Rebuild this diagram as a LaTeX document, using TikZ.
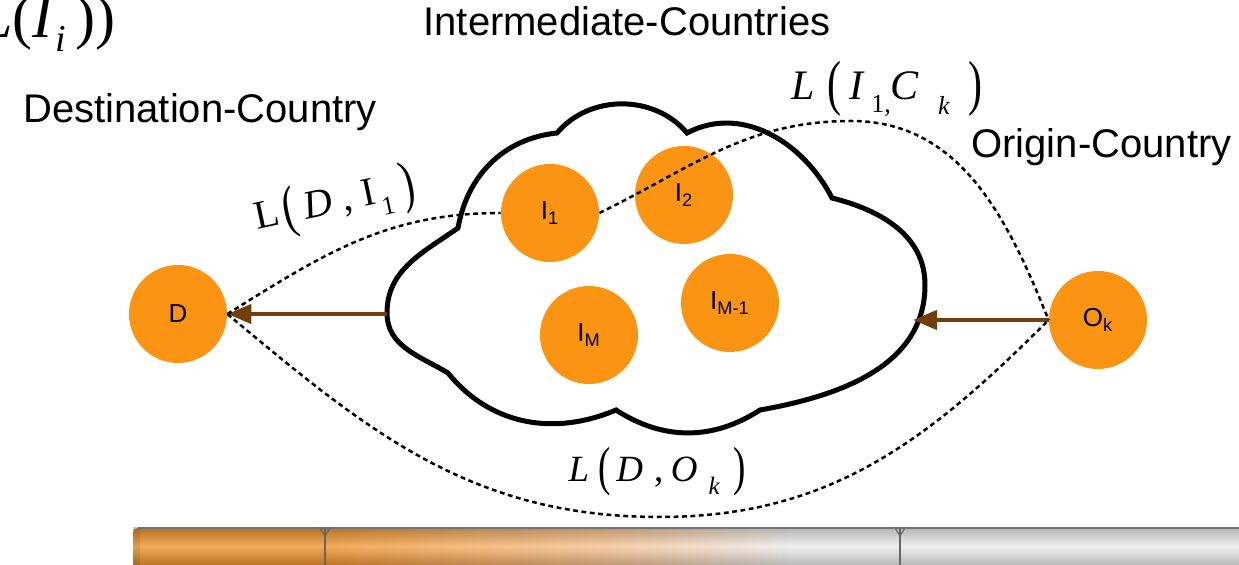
\documentclass[tikz,border=0pt]{standalone}
\usepackage{fontspec}
\usepackage{graphicx}
\setmainfont{Liberation Sans}
\newfontfamily\tnr{Liberation Serif}
\usetikzlibrary{arrows.meta}
\definecolor{orng}{RGB}{250,148,18}
\definecolor{brwn}{RGB}{112,64,8}
\definecolor{cigor}{RGB}{240,148,45}
\definecolor{cigpale}{RGB}{246,196,150}
\definecolor{ciggray}{RGB}{236,236,236}
\newcommand{\tallpar}[1]{\raisebox{-0.1em}{\scalebox{1}[1.45]{#1}}}
\begin{document}
\begin{tikzpicture}[x=0.5pt,y=0.5pt,
  country/.style={circle,fill=orng,minimum size=49pt,inner sep=0pt,font=\fontsize{13pt}{13pt}\selectfont},
  region/.style={inner sep=0pt,font=\fontsize{20pt}{22pt}\selectfont},
  linkline/.style={dash pattern=on 2.4pt off 1.8pt,line width=1.25pt},
  flow/.style={draw=brwn,line width=2.2pt,-{Triangle[length=12pt,width=9.5pt]}},
  cloudline/.style={line width=2.5pt,line join=miter},
  lbl/.style={inner sep=0pt,font=\tnr\fontsize{20pt}{20pt}\selectfont}
]
\useasboundingbox (0,0) rectangle (1239,-565);

% cigarette bar
\fill[cigor] (140,-528) rectangle (325,-565);
\shade[left color=cigor,right color=cigpale] (325,-528) rectangle (620,-565);
\shade[left color=cigpale,right color=ciggray] (620,-528) rectangle (790,-565);
\fill[ciggray] (790,-528) rectangle (1239,-565);
\fill[cigor!90!black] (133,-532) .. controls (133,-529) and (136,-528) .. (140,-528) -- (140,-565) -- (133,-565) -- cycle;
\shade[top color=black,bottom color=black,middle color=white,opacity=0.22] (133,-528) rectangle (1239,-565);
\draw[black!55,line width=0.6pt] (138,-528) -- (1239,-528);
\draw[black!60,line width=0.7pt] (325,-528) -- (325,-565);
\draw[black!60,line width=0.7pt] (900,-528) -- (900,-565);
\draw[black!60,line width=0.6pt] (320,-528) -- (325,-536) -- (330,-528);
\draw[black!60,line width=0.6pt] (895,-528) -- (900,-536) -- (905,-528);

% top-left cut formula
\node[inner sep=0pt,anchor=base east,font=\tnr\fontsize{30pt}{30pt}\selectfont] (frag) at (116,-38)
  {\textit{L}(\textit{I}\raisebox{-0.22em}{\fontsize{19pt}{19pt}\selectfont\textit{i}}\,))};

% region labels
\node[region,anchor=base] (tInt) at (627,-36) {Intermediate-Countries};
\node[region,anchor=base west] (tDest) at (23,-123) {Destination-Country};
\node[region,anchor=base west] (tOrig) at (971,-158) {Origin-Country};

% countries
\node[country] (D) at (178,-314) {D};
\node[country] (I1) at (550,-213) {I\textsubscript{1}};
\node[country] (I2) at (684,-195) {I\textsubscript{2}};
\node[country] (IM) at (589,-335) {I\textsubscript{M}};
\node[country] (IMm) at (730,-303) {I\textsubscript{M-1}};
\node[country] (Ok) at (1098,-320) {O\textsubscript{k}};

% cloud
\coordinate (cloudW) at (387,-314);
\coordinate (cloudE) at (913,-320);
\draw[cloudline] (387,-313) to[out=90,in=215] (458,-228) to[out=80,in=186] (557,-133)
  to[out=50,in=130] (687,-133) to[out=28,in=117] (832,-198)
  to[out=-14,in=90] (925,-285) to[out=-90,in=10] (760,-410)
  to[out=-147,in=-33] (616,-410) to[out=-157,in=-51] (448,-373)
  to[out=149,in=-90] cycle;

% flows
\draw[flow] (cloudW) -- (D.east);
\draw[flow] (Ok.west) -- (cloudE);

% links
\coordinate (topc) at (851,-121);
\coordinate (botc) at (660,-517);
\draw[linkline] (D.east) to[out=32,in=180] (I1.west);
\draw[linkline] (I1.east) to[out=26,in=180] (topc) to[out=0,in=112] (Ok.west);
\draw[linkline] (D.east) to[out=-40,in=180] (botc) to[out=0,in=-135] (Ok.west);

% link labels
\node[lbl,rotate=12] (lDI) at (335,-203)
  {L\hspace{0.12em}\tallpar{(}\hspace{0.2em}\textit{D}\hspace{0.25em},\hspace{0.25em}I\hspace{0.1em}\raisebox{-0.3em}{\fontsize{13pt}{13pt}\selectfont 1}\hspace{0.25em}\tallpar{)}};
\node[lbl,font=\tnr\fontsize{21pt}{21pt}\selectfont] (lIC) at (887,-89)
  {\textit{L}\hspace{0.3em}\tallpar{(}\hspace{0.2em}\textit{I}\hspace{0.15em}\raisebox{-0.3em}{\fontsize{13pt}{13pt}\selectfont 1,}\textit{C}\hspace{0.45em}\raisebox{-0.35em}{\fontsize{13pt}{13pt}\selectfont\textit{k}}\hspace{0.45em}\tallpar{)}};
\node[lbl,font=\tnr\fontsize{18.5pt}{18.5pt}\selectfont] (lDO) at (657,-472)
  {\textit{L}\hspace{0.25em}\tallpar{(}\hspace{0.15em}\textit{D}\hspace{0.3em},\hspace{0.2em}\textit{O}\hspace{0.3em}\raisebox{-0.35em}{\fontsize{12.5pt}{12.5pt}\selectfont\textit{k}}\hspace{0.35em}\tallpar{)}};
\end{tikzpicture}
\end{document}
